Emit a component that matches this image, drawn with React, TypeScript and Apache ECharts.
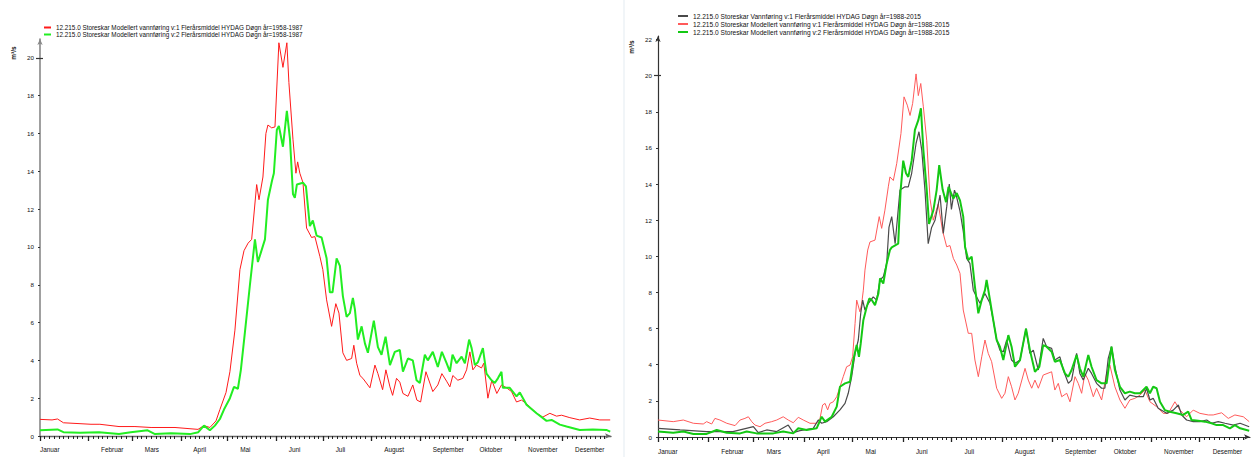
import { useEffect, useRef } from 'react';
import * as echarts from 'echarts';

const MONTHS = ['Januar', 'Februar', 'Mars', 'April', 'Mai', 'Juni', 'Juli', 'August', 'September', 'Oktober', 'November', 'Desember'];
const MONTH_START = [0, 31, 59, 90, 120, 151, 181, 212, 243, 273, 304, 334];
const Y_TICKS_LEFT = [0, 2, 4, 6, 8, 10, 12, 14, 16, 18, 20];
const Y_TICKS_RIGHT = [0, 2, 4, 6, 8, 10, 12, 14, 16, 18, 20, 22];

const L_NAMES = [
  '12.215.0 Storeskar Modellert vannføring v:1 Flerårsmiddel HYDAG Døgn år=1958-1987',
  '12.215.0 Storeskar Modellert vannføring v:2 Flerårsmiddel HYDAG Døgn år=1958-1987',
];
const R_NAMES = [
  '12.215.0 Storeskar Vannføring v:1 Flerårsmiddel HYDAG Døgn år=1988-2015',
  '12.215.0 Storeskar Modellert vannføring v:1 Flerårsmiddel HYDAG Døgn år=1988-2015',
  '12.215.0 Storeskar Modellert vannføring v:2 Flerårsmiddel HYDAG Døgn år=1988-2015',
];

// [day of year, m3/s]
const L_RED: [number, number][] = [
  [0, 0.88], [7.7, 0.85], [11.2, 0.9], [15, 0.7], [32.6, 0.62], [38.3, 0.62], [50.5, 0.5], [60.7, 0.5], [71, 0.45], [86.3, 0.45],
  [101, 0.35], [104.8, 0.55], [108.6, 0.45], [112.5, 0.8], [115, 1.4], [118.9, 2.3], [121.4, 3.4], [124.6, 5.6], [127.8, 8.8], [130.4, 9.8],
  [133, 10.2], [135.3, 10.4], [138.5, 13.3], [140, 12.5], [142.5, 13.7], [144.4, 16.0], [145.7, 16.45], [148.1, 16.3], [150.2, 16.35], [152.7, 20.8],
  [155.3, 19.5], [157.8, 20.8], [159.1, 18.7], [161.7, 15.7], [163.6, 13.9], [164.7, 14.5], [166.1, 13.9], [168.1, 13.4], [170.4, 11.0], [173.6, 10.5],
  [175.7, 10.55], [178.9, 9.5], [180.8, 8.8], [183.2, 7.2], [186.4, 5.8], [189.1, 7.0], [191.1, 6.5], [193.6, 4.4], [196, 4.0], [199.2, 4.1],
  [200.6, 4.8], [202.4, 3.85], [204.5, 3.2], [206.4, 3.05], [210.9, 2.55], [214.1, 3.75], [216, 3.3], [219, 2.45], [221.1, 3.5], [223.7, 2.6],
  [225.4, 2.15], [227.9, 3.05], [230, 2.85], [232, 2.25], [235.2, 2.1], [238.3, 2.7], [240.9, 1.9], [243.3, 1.8], [246.7, 3.4], [249.2, 2.8],
  [251.1, 2.35], [254.3, 2.7], [256.9, 3.3], [259.9, 2.9], [262, 2.6], [263.9, 3.2], [267.1, 2.95], [270.3, 3.05], [272.7, 3.5], [274.8, 4.45],
  [276.7, 3.5], [279, 3.75], [282.2, 3.6], [283.7, 3.85], [286.3, 2.0], [288.8, 2.95], [292, 2.25], [295, 2.7], [298.2, 2.55], [301.4, 2.35],
  [304.6, 1.8], [307.8, 1.9], [311.8, 1.65], [317.4, 1.2], [321.4, 1.0], [325.9, 1.2], [330.2, 1.05], [333.4, 1.1], [338.7, 0.97], [345, 0.85],
  [351.4, 0.95], [357.8, 0.85], [364.5, 0.85],
];

const L_GREEN: [number, number][] = [
  [0, 0.3], [11.2, 0.35], [15, 0.2], [25.6, 0.17], [37.7, 0.2], [50.5, 0.1], [58, 0.2], [68.8, 0.3], [73.5, 0.1], [83.7, 0.15],
  [95.9, 0.1], [101.2, 0.2], [104.8, 0.55], [108.6, 0.3], [111.8, 0.55], [115, 0.9], [117.6, 1.4], [121.4, 2.0], [124, 2.6], [126.5, 2.5],
  [128.4, 3.5], [131, 5.5], [134.2, 8.0], [137.4, 10.4], [139.3, 9.2], [143.8, 10.4], [145.7, 12.5], [148.3, 13.5], [149.5, 13.9], [151.4, 16.2],
  [152.7, 16.4], [155.3, 15.3], [157.8, 17.2], [159.8, 15.7], [161.7, 12.8], [162.9, 12.6], [164.2, 13.3], [168.1, 13.4], [170, 13.2], [172.5, 11.1],
  [174.4, 11.4], [176.8, 10.6], [180, 10.5], [183.2, 9.4], [185.3, 7.6], [187, 7.6], [189.6, 9.4], [191.7, 9.0], [193.6, 7.4], [196, 6.3],
  [198.1, 6.5], [200, 7.3], [201.3, 6.7], [203.2, 5.1], [205.6, 5.8], [207.7, 4.9], [209.6, 4.4], [213.4, 6.1], [216, 4.7], [218.3, 4.3],
  [220.9, 5.25], [223.7, 3.75], [226.8, 4.45], [230, 4.55], [232, 3.4], [235.2, 4.1], [238.3, 4.0], [240.7, 2.95], [242.8, 2.8], [246, 4.3],
  [247.9, 4.0], [251.1, 4.45], [254.3, 3.65], [256.9, 4.45], [259.9, 3.85], [262, 3.4], [263.7, 4.3], [266.3, 3.85], [269.5, 4.2], [271.6, 3.85],
  [274.3, 5.1], [275.9, 4.65], [278, 3.75], [279.9, 3.9], [283.1, 4.65], [285.4, 3.3], [288.6, 2.95], [290.7, 2.8], [292.7, 3.05], [295, 3.4],
  [295.9, 2.55], [300.3, 2.55], [304.6, 2.1], [306.7, 2.3], [311, 1.65], [317.4, 1.2], [323.8, 0.8], [327, 0.85], [332.3, 0.6], [336.6, 0.5],
  [345, 0.32], [353.4, 0.35], [362, 0.32], [364.5, 0.23],
];

const R_GRAY: [number, number][] = [
  [0, 0.48], [13.6, 0.39], [30, 0.3], [46.2, 0.3], [58.8, 0.57], [61.8, 0.24], [67, 0.39], [73.2, 0.3], [80.3, 0.66], [83.4, 0.24],
  [87.5, 0.35], [95.7, 0.48], [98.8, 0.94], [100.9, 0.76], [104, 0.85], [108.1, 1.12], [112.2, 1.5], [115.3, 1.86], [117.3, 2.42], [119.4, 3.34],
  [121.5, 4.63], [123.5, 5.37], [125, 6.85], [126.2, 7.58], [127.6, 7.03], [129.7, 7.4], [132.7, 7.76], [134.8, 7.58], [136.9, 8.69], [138.9, 8.87],
  [141, 9.61], [142.4, 11.6], [144.1, 12.2], [146.2, 10.7], [149.2, 13.67], [152.3, 13.85], [154.3, 13.85], [156.4, 14.6], [159.1, 16.25], [160.9, 16.9],
  [162.6, 15.9], [164.6, 13.67], [166.6, 10.7], [168.7, 11.6], [170.8, 12.0], [173.9, 13.39], [175.9, 11.27], [178, 12.74], [179.6, 14.0], [180.9, 12.6],
  [182.8, 13.67], [183.8, 13.4], [186.2, 12.5], [188.2, 11.4], [190.3, 9.89], [192.3, 9.61], [194.4, 8.13], [196.4, 7.76], [198.5, 7.4], [201.6, 7.95],
  [204.7, 7.4], [206.7, 6.47], [208.8, 5.37], [210.8, 4.81], [212.9, 4.72], [215, 5.37], [218, 4.26], [220.1, 4.08], [223.2, 4.26], [226.9, 6.0],
  [229.3, 4.63], [231.4, 4.81], [234.5, 3.71], [237.5, 5.46], [239.6, 5.0], [242.7, 4.91], [244.7, 4.26], [247.8, 4.44], [249.9, 3.71], [253, 2.97],
  [255, 3.15], [258.1, 4.63], [260.1, 3.52], [262.2, 3.15], [265.3, 3.8], [267.3, 3.52], [270.4, 2.97], [273.5, 2.7], [275.5, 2.7], [277.6, 4.35],
  [279.6, 5.0], [281.7, 3.89], [284.8, 2.6], [287.9, 2.05], [290.9, 2.32], [295.1, 2.23], [299.2, 2.23], [301.2, 2.7], [303.3, 2.05], [305.3, 2.14],
  [308.4, 1.59], [313.6, 1.31], [317.7, 1.49], [320.8, 1.77], [322.9, 1.22], [325.9, 0.94], [330, 0.85], [334.1, 0.85], [338.3, 0.94], [341.3, 0.76],
  [345.4, 0.85], [349.6, 0.76], [354.7, 0.66], [358.9, 0.76], [364.5, 0.57],
];

const R_RED: [number, number][] = [
  [0, 0.94], [9.4, 0.85], [15.6, 0.94], [21.8, 0.76], [27.9, 0.72], [30, 0.85], [33.1, 0.72], [35.1, 1.03], [38.2, 0.94], [42.4, 0.76],
  [47.5, 0.63], [50.6, 0.94], [53.6, 1.03], [55.7, 1.12], [57.8, 0.85], [59.8, 0.66], [62.9, 0.57], [66, 0.76], [70.1, 0.85], [73.2, 0.94],
  [77.2, 1.12], [80.3, 0.94], [83.4, 0.79], [86.5, 1.09], [89.6, 0.94], [93.7, 0.76], [97.8, 0.76], [99.9, 1.03], [101.5, 1.77], [103, 1.86],
  [104.6, 1.5], [106, 1.86], [108.1, 1.95], [110.2, 2.23], [112.2, 2.78], [114.2, 3.34], [116.3, 3.89], [118.4, 3.98], [120, 4.44], [121.5, 6.29],
  [122.5, 7.58], [124.5, 6.93], [125.6, 7.4], [126.6, 8.13], [127.6, 9.24], [129.3, 10.35], [130.7, 10.8], [133.8, 10.9], [136.4, 12.2], [137.9, 11.55],
  [139.9, 12.56], [142, 13.85], [143, 14.4], [145.1, 14.2], [147.2, 15.15], [149.8, 16.8], [151.7, 18.83], [153.7, 18.37], [155.4, 17.8], [157, 18.47],
  [159.1, 20.1], [160.5, 18.9], [162, 19.57], [163.6, 18.28], [165.7, 16.4], [167.7, 13.2], [169.7, 12.0], [172.8, 12.9], [175.5, 11.4], [178, 10.53],
  [180, 10.6], [182.1, 9.89], [184.2, 9.52], [186.2, 9.06], [188.2, 7.03], [191.3, 5.74], [193.4, 5.74], [195.4, 4.26], [197.5, 3.34], [199.6, 4.44],
  [201.6, 5.37], [203.6, 4.63], [205.7, 4.17], [208.8, 2.7], [211.9, 2.14], [213.9, 2.42], [216, 3.34], [218, 2.78], [220.1, 2.05], [222.1, 2.42],
  [226.3, 3.8], [228.3, 3.15], [230.4, 2.7], [232.4, 3.15], [234.5, 2.7], [237.5, 3.43], [242.7, 3.61], [244.7, 2.6], [246.8, 2.97], [248.9, 2.23],
  [252, 2.42], [254, 1.95], [257.1, 3.34], [259.1, 2.97], [261.2, 2.42], [263.2, 3.52], [265.3, 3.15], [268.4, 2.23], [270.4, 2.7], [273.5, 2.05],
  [276.6, 3.52], [278.6, 3.98], [281.7, 2.78], [284.8, 2.05], [287.9, 1.59], [290.9, 2.05], [294, 2.14], [297.2, 2.32], [300.2, 2.6], [303.3, 1.95],
  [307.4, 1.68], [311.5, 1.31], [314.6, 1.31], [318.7, 1.95], [321.8, 1.49], [325.9, 1.12], [330, 1.49], [334.1, 1.31], [339.3, 1.22], [342.3, 1.22],
  [347.5, 1.34], [351.6, 1.03], [355.7, 1.22], [360.9, 1.12], [364.5, 0.85],
];

const R_GREEN: [number, number][] = [
  [0, 0.3], [9.4, 0.24], [15.6, 0.3], [21.8, 0.17], [30, 0.17], [36.2, 0.39], [42.4, 0.24], [50.6, 0.2], [54.7, 0.3], [60.8, 0.2],
  [71.1, 0.2], [77.2, 0.3], [83.4, 0.2], [86.5, 0.48], [91.7, 0.39], [97.8, 0.48], [100.9, 1.12], [103, 0.85], [107.1, 1.12], [110.2, 1.68],
  [112.2, 2.78], [115.3, 2.97], [118.4, 3.06], [120.4, 4.26], [122.5, 5.09], [123.9, 4.44], [125, 5.18], [126.6, 6.47], [128.7, 7.21], [130.3, 7.67],
  [131.8, 7.58], [133.8, 7.3], [135.9, 7.95], [136.9, 8.78], [138.9, 8.5], [141, 9.61], [143, 10.35], [144.1, 10.5], [148.1, 10.7], [149.6, 13.67],
  [151.2, 15.3], [152.9, 14.6], [154.3, 14.4], [156.4, 15.3], [158.4, 17.0], [160.5, 17.54], [162.1, 18.2], [163.6, 15.9], [165.7, 13.67], [167.1, 11.8],
  [169.8, 12.56], [171.8, 13.67], [173.4, 15.05], [175.5, 13.7], [177.6, 13.0], [179.1, 13.85], [180.7, 13.5], [182.1, 13.2], [184.2, 13.5], [186.2, 13.1],
  [188.2, 12.2], [189.3, 10.53], [191.3, 9.8], [193.4, 9.98], [195.4, 8.32], [197.5, 6.85], [199.6, 7.58], [201.6, 8.13], [202.6, 8.69], [204.7, 7.58],
  [206.7, 6.47], [208.8, 5.37], [210.8, 5.0], [212.9, 4.26], [216, 5.64], [218, 5.0], [220.1, 3.89], [223.2, 4.26], [226.9, 6.0], [229.3, 4.81],
  [232.4, 3.61], [235.1, 3.89], [237.5, 5.09], [239.6, 5.0], [242.7, 4.72], [244.7, 4.17], [247.8, 4.26], [250.9, 3.52], [253, 3.34], [255, 3.71],
  [258.1, 4.54], [260.1, 3.8], [262.2, 3.34], [265.3, 4.54], [267.3, 3.89], [270.4, 3.15], [273.5, 2.97], [276.6, 2.97], [279.6, 5.0], [281.7, 3.71],
  [284.8, 2.78], [287.9, 2.42], [290.9, 2.51], [294, 2.42], [297.2, 2.42], [301.2, 2.78], [303.3, 2.42], [305.3, 2.78], [307.4, 2.7], [309.5, 1.95],
  [312.5, 1.49], [315.6, 1.4], [319.7, 1.31], [323.8, 1.22], [326.9, 1.4], [329, 0.94], [333.1, 0.9], [337.2, 0.85], [341.3, 0.76], [344.4, 0.66],
  [348.5, 0.66], [352.6, 0.48], [355.7, 0.66], [358.9, 0.48], [364.5, 0.35],
];

const FONT = "'Liberation Sans', Arial, sans-serif";
const TEXT = '#111';
const LABEL_OFFSET_DAYS = 8;
const LABEL_POS = MONTH_START.map((s, i) => (i === 0 ? 0 : s + LABEL_OFFSET_DAYS));
const MINOR_TICKS: number[] = [];
MONTH_START.forEach((s, i) => {
  const end = i < 11 ? MONTH_START[i + 1] : 365;
  for (let d = s + 3; d < end - 1; d += 3) MINOR_TICKS.push(d);
});

function xAxesFor(gridIndex: number, color: string, width: number, margin: number) {
  return [
    {
      type: 'value', gridIndex, min: 0, max: 365, position: 'bottom',
      axisLine: { show: true, onZero: false, symbol: ['none', 'arrow'], symbolSize: [4, 6], lineStyle: { color, width } },
      axisTick: { show: true, customValues: MONTH_START, length: 5, lineStyle: { color: '#222', width: 1.3 } },
      axisLabel: {
        show: true, customValues: LABEL_POS, align: 'left', margin, fontSize: 6.4, color: TEXT, fontFamily: FONT,
        formatter: (v: number) => MONTHS[LABEL_POS.indexOf(v)] ?? '',
      },
      splitLine: { show: false },
    },
    {
      type: 'value', gridIndex, min: 0, max: 365, position: 'bottom',
      axisLine: { show: false, onZero: false },
      axisTick: { show: true, customValues: MINOR_TICKS, length: 3, lineStyle: { color: '#222', width: 1 } },
      axisLabel: { show: false },
      splitLine: { show: false },
    },
  ];
}

function yAxesFor(gridIndex: number, max: number, ticks: number[], color: string, width: number) {
  return [
    {
      type: 'value', gridIndex, min: 0, max, position: 'left',
      axisLine: { show: true, onZero: false, symbol: ['none', 'arrow'], symbolSize: [4, 6], lineStyle: { color, width } },
      axisTick: { show: true, customValues: ticks, length: 2, lineStyle: { color: '#333' } },
      axisLabel: { show: true, customValues: ticks, margin: 6, fontSize: 6.2, color: TEXT, fontFamily: FONT },
      splitLine: { show: false },
    },
    {
      type: 'value', gridIndex, min: 0, max, position: 'left',
      axisLine: { show: false },
      axisTick: { show: true, customValues: [20], inside: true, length: 3, lineStyle: { color: '#333', width: 1.2 } },
      axisLabel: { show: false },
      splitLine: { show: false },
    },
    {
      type: 'value', gridIndex, min: 0, max, position: 'left',
      axisLine: { show: false },
      axisTick: { show: true, customValues: [20], length: 4, lineStyle: { color: '#333', width: 1.2 } },
      axisLabel: { show: false },
      splitLine: { show: false },
    },
  ];
}

function line(name: string, data: [number, number][], color: string, width: number, xi: number, yi: number) {
  return {
    type: 'line', name, data, xAxisIndex: xi, yAxisIndex: yi, symbol: 'none', showSymbol: false, silent: true,
    lineStyle: { color, width }, itemStyle: { color }, z: 2,
  };
}

const legendBase = {
  orient: 'vertical', icon: 'rect', itemHeight: 2, itemGap: 0, padding: 0, selectedMode: false,
};

export default function App() {
  const ref = useRef<HTMLDivElement>(null);
  useEffect(() => {
    const chart = echarts.init(ref.current!, null, { renderer: 'svg' });
    chart.setOption({
      animation: false,
      backgroundColor: '#ffffff',
      grid: [
        { left: 40, top: 39, width: 571, height: 397, outerBoundsMode: 'none', containLabel: false },
        { left: 658, top: 36, width: 592, height: 401, outerBoundsMode: 'none', containLabel: false },
      ],
      xAxis: [...xAxesFor(0, '#666', 1.4, 10), ...xAxesFor(1, '#333', 1.2, 11)],
      yAxis: [...yAxesFor(0, 21, Y_TICKS_LEFT, '#888', 1.6), ...yAxesFor(1, 22.2, Y_TICKS_RIGHT, '#333', 1.2)],
      legend: [
        {
          ...legendBase, left: 44, top: 24, itemWidth: 7, data: L_NAMES,
          textStyle: { fontSize: 6.35, lineHeight: 7, color: TEXT, fontFamily: FONT },
        },
        {
          ...legendBase, left: 678, top: 12, itemWidth: 10, data: R_NAMES,
          textStyle: { fontSize: 6.6, lineHeight: 8, color: TEXT, fontFamily: FONT },
        },
      ],
      series: [
        line(L_NAMES[0], L_RED, '#ff1a1a', 1, 0, 0),
        line(L_NAMES[1], L_GREEN, '#22ee22', 2, 0, 0),
        line(R_NAMES[1], R_RED, '#ff5a5a', 1, 2, 3),
        line(R_NAMES[0], R_GRAY, '#4a4a4a', 1.2, 2, 3),
        line(R_NAMES[2], R_GREEN, '#14c814', 2, 2, 3),
      ],
      graphic: [
        { type: 'line', shape: { x1: 624, y1: 0, x2: 624, y2: 457 }, style: { stroke: '#e3ebf1', lineWidth: 1 }, silent: true },
        {
          type: 'text', x: 13, y: 53, rotation: Math.PI / 2, silent: true,
          style: { text: 'm³/s', fontSize: 6.5, fontWeight: 'bold', fontFamily: FONT, fill: TEXT, align: 'center', verticalAlign: 'middle' },
        },
        {
          type: 'text', x: 631, y: 47, rotation: Math.PI / 2, silent: true,
          style: { text: 'm³/s', fontSize: 6.5, fontWeight: 'bold', fontFamily: FONT, fill: TEXT, align: 'center', verticalAlign: 'middle' },
        },
      ],
    });
    return () => chart.dispose();
  }, []);
  return <div ref={ref} style={{ position: 'absolute', left: 0, top: 0, width: 1255, height: 457 }} />;
}
